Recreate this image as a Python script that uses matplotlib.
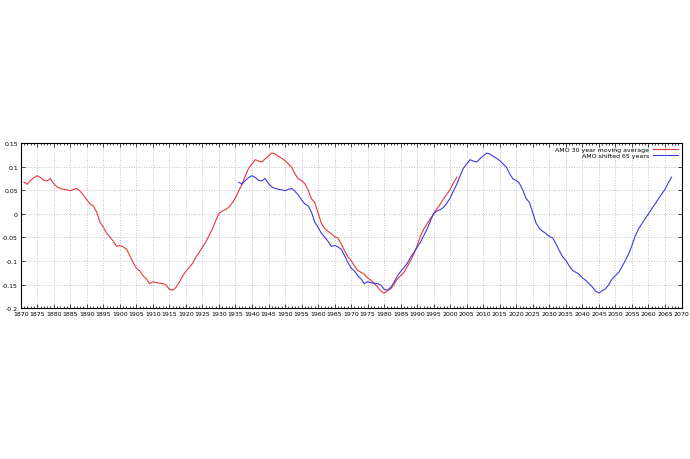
import numpy as np
import matplotlib
matplotlib.use("Agg")
import matplotlib.pyplot as plt
from matplotlib.ticker import MultipleLocator

# AMO 30 year moving average, annual values
amo_years = list(range(1871, 2003))
amo_values = [
    0.067, 0.063, 0.071, 0.077, 0.081, 0.077, 0.071, 0.070, 0.075, 0.064,  # 1871-1880
    0.057, 0.054, 0.052, 0.051, 0.049, 0.052, 0.054, 0.048, 0.040, 0.030,  # 1881-1890
    0.021, 0.017, 0.004, -0.018, -0.028, -0.041, -0.049, -0.058, -0.069, -0.067,  # 1891-1900
    -0.070, -0.075, -0.088, -0.103, -0.115, -0.121, -0.131, -0.138, -0.148, -0.144,  # 1901-1910
    -0.146, -0.147, -0.148, -0.151, -0.160, -0.162, -0.156, -0.145, -0.132, -0.122,  # 1911-1920
    -0.114, -0.105, -0.092, -0.082, -0.071, -0.060, -0.046, -0.032, -0.015, 0.001,  # 1921-1930
    0.006, 0.009, 0.014, 0.023, 0.034, 0.049, 0.063, 0.081, 0.097, 0.106,  # 1931-1940
    0.115, 0.112, 0.110, 0.117, 0.123, 0.129, 0.127, 0.122, 0.118, 0.113,  # 1941-1950
    0.106, 0.099, 0.085, 0.074, 0.071, 0.064, 0.050, 0.032, 0.024, 0.002,  # 1951-1960
    -0.020, -0.031, -0.037, -0.042, -0.048, -0.051, -0.064, -0.078, -0.091, -0.099,  # 1961-1970
    -0.110, -0.120, -0.124, -0.128, -0.136, -0.141, -0.148, -0.155, -0.164, -0.168,  # 1971-1980
    -0.163, -0.159, -0.150, -0.138, -0.131, -0.124, -0.112, -0.099, -0.085, -0.067,  # 1981-1990
    -0.047, -0.032, -0.021, -0.010, 0.000, 0.011, 0.021, 0.032, 0.042, 0.052,  # 1991-2000
    0.066, 0.078,  # 2001-2002
]

shift_years = 65
labels = ["AMO 30 year moving average", "AMO shifted 65 years"]

fig = plt.figure(figsize=(6.9, 4.6), dpi=100)
ax = fig.add_axes([0.030, 0.328, 0.9577, 0.3586])

ax.plot(amo_years, amo_values, color="#e8383c", lw=0.8, label=labels[0])
ax.plot(np.array(amo_years) + shift_years, amo_values, color="#3c3ce0", lw=0.8,
        label=labels[1])

ax.set_xlim(1870, 2070)
ax.set_ylim(-0.2, 0.15)
ax.xaxis.set_major_locator(MultipleLocator(5))
ax.xaxis.set_minor_locator(MultipleLocator(1))
ax.yaxis.set_major_locator(MultipleLocator(0.05))
ax.set_yticks(np.arange(-0.2, 0.151, 0.05))
ax.set_yticklabels(["-0.2", "-0.15", "-0.1", "-0.05", "0", "0.05", "0.1", "0.15"])

ax.grid(True, which="major", color="#b0b0b0", linestyle=(0, (1, 2)), lw=0.6)
ax.tick_params(which="both", direction="in", top=True, right=True,
               labelsize=4.5, pad=2, width=0.5)
ax.tick_params(which="major", length=3)
ax.tick_params(which="minor", length=1.5)
for s in ax.spines.values():
    s.set_linewidth(0.8)

ax.legend(loc="upper right", frameon=False, markerfirst=False, fontsize=4.5,
          handlelength=4, borderaxespad=0.2, labelspacing=0.1, handletextpad=0.6)

fig.savefig("out.png", dpi=100)
